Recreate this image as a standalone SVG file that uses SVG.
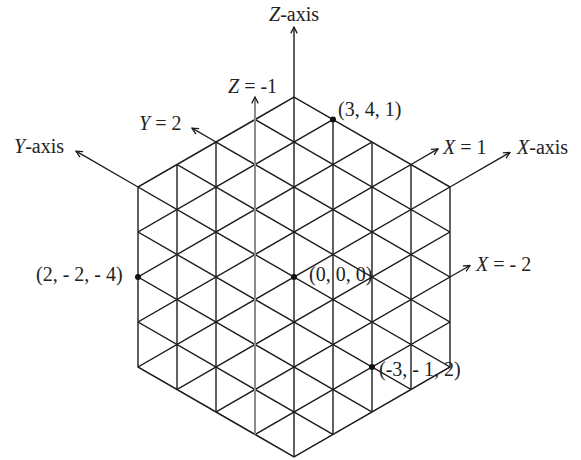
<svg xmlns="http://www.w3.org/2000/svg" width="581" height="460" viewBox="0 0 581 460">
<style>
.g{stroke:#1e1e1e;stroke-width:1.4;fill:none}
.ax{stroke:#1e1e1e;stroke-width:1.4;fill:none;marker-end:url(#ah)}
.gray{stroke:#8c8c8c;stroke-width:2;fill:none;marker-end:url(#ah)}
text{font-family:"Liberation Serif","Times New Roman",serif;font-size:20px;fill:#222}
.i{font-style:italic}
.dot{fill:#111}
</style>
<defs>
<marker id="ah" viewBox="0 0 10 10" refX="9" refY="5" markerWidth="8" markerHeight="8" markerUnits="userSpaceOnUse" orient="auto">
<path d="M1,1 L9,5 L1,9" fill="none" stroke="#1e1e1e" stroke-width="1.6"/>
</marker>
<clipPath id="hex"><polygon points="294,97 450,187 450,367 294,457 138,367 138,187"/></clipPath>
</defs>
<g id="grid">
<g clip-path="url(#hex)" class="g">
<path d="M177,90V460M216,90V460M333,90V460M372,90V460M411,90V460"/>
<path d="M130,2.385L460,192.769M130,47.385L460,237.769M130,92.385L460,282.769M130,137.385L460,327.769M130,182.385L460,372.769M130,227.385L460,417.769M130,272.385L460,462.769M130,317.385L460,507.769M130,362.385L460,552.769"/>
<path d="M130,191.615L460,1.231M130,236.615L460,46.231M130,281.615L460,91.231M130,326.615L460,136.231M130,371.615L460,181.231M130,416.615L460,226.231M130,461.615L460,271.231M130,506.615L460,316.231M130,551.615L460,361.231"/>
</g>
<polygon class="g" points="294,97 450,187 450,367 294,457 138,367 138,187"/>
</g>
<g id="connectors">
<line class="ax" x1="294" y1="457" x2="294" y2="27"/>
<line class="gray" x1="255" y1="434.5" x2="255" y2="97"/>
<line class="ax" x1="138" y1="187" x2="76" y2="151.2"/>
<line class="ax" x1="216" y1="142" x2="192" y2="128.2"/>
<line class="ax" x1="411" y1="164.5" x2="438" y2="148.9"/>
<line class="ax" x1="450" y1="187" x2="510" y2="152.4"/>
<line class="ax" x1="450" y1="277" x2="470" y2="265.5"/>
</g>
<g id="points">
<circle class="dot" cx="333" cy="119.5" r="3"/>
<circle class="dot" cx="294" cy="277" r="3"/>
<circle class="dot" cx="138" cy="277" r="3"/>
<circle class="dot" cx="372" cy="367" r="3"/>
</g>
<g id="labels">
<text x="269" y="21"><tspan class="i">Z</tspan>-axis</text>
<text x="228" y="93"><tspan class="i">Z</tspan> = -1</text>
<text x="139" y="130"><tspan class="i">Y</tspan> = 2</text>
<text x="14" y="153"><tspan class="i">Y</tspan>-axis</text>
<text x="338" y="116">(3, 4, 1)</text>
<text x="443" y="154"><tspan class="i">X</tspan> = 1</text>
<text x="517" y="154"><tspan class="i">X</tspan>-axis</text>
<text x="476" y="271"><tspan class="i">X</tspan> = - 2</text>
<text x="309" y="281">(0, 0, 0)</text>
<text x="36" y="281">(2, - 2, - 4)</text>
<text x="379" y="376">(-3, - 1, 2)</text>
</g>
</svg>
